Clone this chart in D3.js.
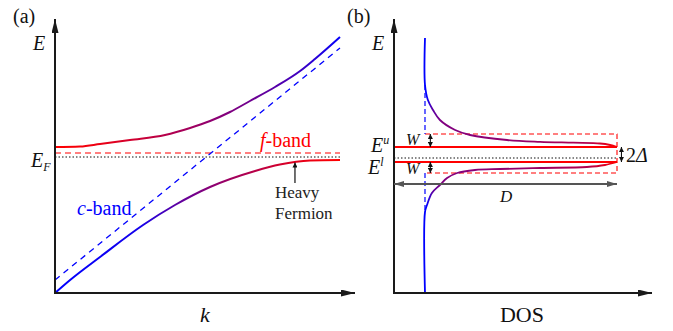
<!DOCTYPE html>
<html>
<head>
<meta charset="utf-8">
<script src="https://cdn.jsdelivr.net/npm/d3@7"></script>
<style>
  body { margin: 0; background: #fff; }
  svg { display: block; }
  text, tspan { font-family: "Liberation Serif", "Times New Roman", serif; }
</style>
</head>
<body>
<svg id="chart" width="673" height="331"></svg>
<script>
// ---- panel (a): dispersion, k in [0,1], E in arbitrary units (E_F = 0)
const upperBandK = [0, 0.088, 0.158, 0.263, 0.386, 0.474, 0.544, 0.614, 0.684, 0.772, 0.86, 0.912, 1]
const upperBandE = [0.10, 0.105, 0.13, 0.17, 0.22, 0.29, 0.36, 0.45, 0.56, 0.70, 0.86, 0.98, 1.20]
const lowerBandK = [0, 0.053, 0.158, 0.309, 0.421, 0.544, 0.702, 0.789, 0.895, 1]
const lowerBandE = [-1.36, -1.23, -1.00, -0.68, -0.48, -0.30, -0.14, -0.075, -0.035, -0.03]
const cBandK = [0, 1]
const cBandE = [-1.23, 1.09]
const fLevelA = 0.04
const fermiA = 0

// ---- panel (b): density of states, DOS in units of D
const upperDosN = [0.139, 0.139, 0.152, 0.175, 0.206, 0.274, 0.341, 0.507, 0.655, 0.803, 0.924, 0.969, 1]
const upperDosE = [1.20, 0.73, 0.58, 0.48, 0.38, 0.28, 0.23, 0.18, 0.162, 0.153, 0.145, 0.13, 0.11]
const lowerDosN = [0.139, 0.139, 0.148, 0.170, 0.206, 0.238, 0.283, 0.363, 0.475, 0.655, 0.865, 0.946, 1]
const lowerDosE = [-1.35, -0.54, -0.47, -0.35, -0.27, -0.20, -0.15, -0.12, -0.11, -0.10, -0.09, -0.07, -0.04]
const cDos = 0.139
const levelEu = 0.11
const levelEl = -0.04
const fermiB = 0
const boxTop = 0.24
const boxBottom = -0.15
const dosWidth = 1

const svg = d3.select('#chart')
const defs = svg.append('defs')
const mix = d3.interpolateRgb('#0000ff', '#ff0000')

const marker = (id, len, wid, color) => {
  defs.append('marker')
    .attr('id', id)
    .attr('viewBox', `0 0 ${len} ${wid}`)
    .attr('refX', len).attr('refY', wid / 2)
    .attr('markerWidth', len).attr('markerHeight', wid)
    .attr('markerUnits', 'userSpaceOnUse')
    .attr('orient', 'auto-start-reverse')
    .append('path')
      .attr('d', `M0,0L${len},${wid / 2}L0,${wid}Z`)
      .attr('fill', color)
}
marker('axisHead', 14, 7, '#1a1a1a')
marker('smallHead', 5, 5, '#111')
marker('dHead', 10, 6, '#555')

const gradient = (id, x1, x2, stops) => {
  const g = defs.append('linearGradient')
    .attr('id', id)
    .attr('gradientUnits', 'userSpaceOnUse')
    .attr('x1', x1).attr('x2', x2).attr('y1', 0).attr('y2', 0)
  stops.forEach(([o, t]) => g.append('stop').attr('offset', o).attr('stop-color', mix(t)))
}

const addText = (x, y, size, parts, opts = {}) => {
  const t = svg.append('text')
    .attr('x', x).attr('y', y)
    .attr('font-family', 'Liberation Serif')
    .attr('font-size', size)
    .attr('fill', opts.fill || '#111')
    .attr('text-anchor', opts.anchor || 'start')
  if (parts.length === 1 && !parts[0].i) {
    t.text(parts[0].t)
    return t
  }
  parts.forEach(p => {
    const s = t.append('tspan').text(p.t)
      .attr('font-family', 'Liberation Serif')
      .attr('font-style', p.i ? 'italic' : 'normal')
    if (p.size) s.attr('font-size', p.size)
    if (p.dy) s.attr('dy', p.dy)
  })
  return t
}

// ================= panel (a)
const xA = d3.scaleLinear().domain([0, 1]).range([55, 340])
const yA = d3.scaleLinear().domain([0, 1]).range([157, 57])

const lineA = d3.line()
  .x(d => xA(d[0]))
  .y(d => yA(d[1]))
  .curve(d3.curveMonotoneX)

gradient('gradUpperA', xA(0), xA(1), [[0, 1], [0.15, 0.93], [0.4, 0.7], [0.55, 0.56], [0.7, 0.42], [0.85, 0.25], [1, 0.02]])
gradient('gradLowerA', xA(0), xA(1), [[0, 0], [0.3, 0.08], [0.42, 0.35], [0.55, 0.55], [0.7, 0.72], [0.86, 0.9], [1, 1]])

// reference levels
svg.append('line')
  .attr('x1', xA(0)).attr('x2', xA(1))
  .attr('y1', yA(fLevelA)).attr('y2', yA(fLevelA))
  .attr('stroke', '#f00').attr('stroke-width', 1.2).attr('stroke-dasharray', '6,4')
svg.append('line')
  .attr('x1', xA(0)).attr('x2', xA(1))
  .attr('y1', yA(fermiA)).attr('y2', yA(fermiA))
  .attr('stroke', '#111').attr('stroke-width', 1.1).attr('stroke-dasharray', '1.5,2')

svg.append('path')
  .attr('d', lineA(d3.zip(cBandK, cBandE)))
  .attr('fill', 'none').attr('stroke', '#0000ff')
  .attr('stroke-width', 1.3).attr('stroke-dasharray', '6,5')

svg.append('path')
  .attr('d', lineA(d3.zip(upperBandK, upperBandE)))
  .attr('fill', 'none').attr('stroke', 'url(#gradUpperA)').attr('stroke-width', 2)
svg.append('path')
  .attr('d', lineA(d3.zip(lowerBandK, lowerBandE)))
  .attr('fill', 'none').attr('stroke', 'url(#gradLowerA)').attr('stroke-width', 2)

// axes
svg.append('line')
  .attr('x1', xA(0)).attr('y1', yA(-1.36)).attr('x2', xA(0)).attr('y2', yA(1.38))
  .attr('stroke', '#1a1a1a').attr('stroke-width', 2).attr('marker-end', 'url(#axisHead)')
svg.append('line')
  .attr('x1', xA(0) - 1).attr('y1', yA(-1.36)).attr('x2', xA(1.0526)).attr('y2', yA(-1.36))
  .attr('stroke', '#1a1a1a').attr('stroke-width', 2).attr('marker-end', 'url(#axisHead)')

// heavy fermion annotation
svg.append('line')
  .attr('x1', xA(0.842)).attr('y1', yA(-0.26)).attr('x2', xA(0.842)).attr('y2', yA(-0.055))
  .attr('stroke', '#111').attr('stroke-width', 1.2).attr('marker-end', 'url(#smallHead)')

addText(13, 23, 20, [{ t: '(a)' }])
addText(33, 50, 20, [{ t: 'E', i: true }])
addText(31, 167, 20, [{ t: 'E', i: true }, { t: 'F', i: true, size: 12, dy: 4 }])
addText(205, 322, 22, [{ t: 'k', i: true }], { anchor: 'middle' })
addText(260, 147, 20, [{ t: 'f', i: true }, { t: '-band' }], { fill: '#f00' })
addText(77, 215, 20, [{ t: 'c', i: true }, { t: '-band' }], { fill: '#0000ff' })
addText(275, 198, 17, [{ t: 'Heavy' }], { fill: '#222' })
addText(275, 219, 17, [{ t: 'Fermion' }], { fill: '#222' })

// ================= panel (b)
const xB = d3.scaleLinear().domain([0, 1]).range([394, 617])
const yB = d3.scaleLinear().domain([0, 1]).range([158, 58])

const lineB = d3.line()
  .x(d => xB(d[0]))
  .y(d => yB(d[1]))
  .curve(d3.curveCatmullRom.alpha(0.5))

gradient('gradDos', xB(cDos) + 1.5, xB(1), [[0, 0], [0.03, 0.35], [0.08, 0.5], [0.5, 0.58], [0.85, 0.7], [1, 1]])

// f levels
;[levelEu, levelEl].forEach(e => {
  svg.append('line')
    .attr('x1', xB(0)).attr('x2', xB(dosWidth))
    .attr('y1', yB(e)).attr('y2', yB(e))
    .attr('stroke', '#f00').attr('stroke-width', 2.2)
})
svg.append('line')
  .attr('x1', xB(0)).attr('x2', xB(dosWidth))
  .attr('y1', yB(fermiB)).attr('y2', yB(fermiB))
  .attr('stroke', '#111').attr('stroke-width', 1.1).attr('stroke-dasharray', '1.5,2')

// dashed window box (red) and bare c-band continuation (blue)
const boxPath = d3.path()
boxPath.moveTo(xB(cDos), yB(boxTop))
boxPath.lineTo(xB(dosWidth), yB(boxTop))
boxPath.lineTo(xB(dosWidth), yB(boxBottom))
boxPath.lineTo(xB(cDos), yB(boxBottom))
svg.append('path')
  .attr('d', boxPath.toString())
  .attr('fill', 'none').attr('stroke', '#f00').attr('stroke-width', 1.1).attr('stroke-dasharray', '5,3')

svg.append('line')
  .attr('x1', xB(cDos)).attr('x2', xB(cDos))
  .attr('y1', yB(upperDosE[1])).attr('y2', yB(boxTop))
  .attr('stroke', '#0000ff').attr('stroke-width', 1.2).attr('stroke-dasharray', '5,3')
svg.append('line')
  .attr('x1', xB(cDos)).attr('x2', xB(cDos))
  .attr('y1', yB(boxBottom)).attr('y2', yB(lowerDosE[1]))
  .attr('stroke', '#0000ff').attr('stroke-width', 1.2).attr('stroke-dasharray', '5,3')

svg.append('path')
  .attr('d', lineB(d3.zip(upperDosN, upperDosE)))
  .attr('fill', 'none').attr('stroke', 'url(#gradDos)').attr('stroke-width', 1.8)
svg.append('path')
  .attr('d', lineB(d3.zip(lowerDosN, lowerDosE)))
  .attr('fill', 'none').attr('stroke', 'url(#gradDos)').attr('stroke-width', 1.8)

// axes
svg.append('line')
  .attr('x1', xB(0)).attr('y1', yB(-1.35)).attr('x2', xB(0)).attr('y2', yB(1.39))
  .attr('stroke', '#1a1a1a').attr('stroke-width', 2).attr('marker-end', 'url(#axisHead)')
svg.append('line')
  .attr('x1', xB(0) - 1).attr('y1', yB(-1.35)).attr('x2', xB(1.157)).attr('y2', yB(-1.35))
  .attr('stroke', '#1a1a1a').attr('stroke-width', 2).attr('marker-end', 'url(#axisHead)')

// double arrows: W, W, 2Δ, D
const dbl = (x1, y1, x2, y2, head, color, w) => {
  svg.append('line')
    .attr('x1', x1).attr('y1', y1).attr('x2', x2).attr('y2', y2)
    .attr('stroke', color).attr('stroke-width', w)
    .attr('marker-start', `url(#${head})`).attr('marker-end', `url(#${head})`)
}
dbl(xB(0.163), yB(boxTop), xB(0.163), yB(levelEu), 'smallHead', '#111', 1.1)
dbl(xB(0.163), yB(levelEl), xB(0.163), yB(boxBottom), 'smallHead', '#111', 1.1)
dbl(xB(1.02), yB(levelEu), xB(1.02), yB(levelEl), 'smallHead', '#111', 1.1)
dbl(xB(0), yB(-0.26), xB(dosWidth), yB(-0.26), 'dHead', '#555', 2)

addText(347, 23, 20, [{ t: '(b)' }])
addText(372, 50, 20, [{ t: 'E', i: true }])
addText(371, 152, 20, [{ t: 'E', i: true }, { t: 'u', i: true, size: 12, dy: -8 }])
addText(368, 174, 20, [{ t: 'E', i: true }, { t: 'l', i: true, size: 12, dy: -8 }])
addText(406, 145, 16, [{ t: 'W', i: true }])
addText(406, 174, 16, [{ t: 'W', i: true }])
addText(626, 162, 20, [{ t: '2' }, { t: 'Δ', i: true }])
addText(500, 202, 17, [{ t: 'D', i: true }])
addText(522, 322, 22, [{ t: 'DOS' }], { anchor: 'middle' })
</script>
</body>
</html>
